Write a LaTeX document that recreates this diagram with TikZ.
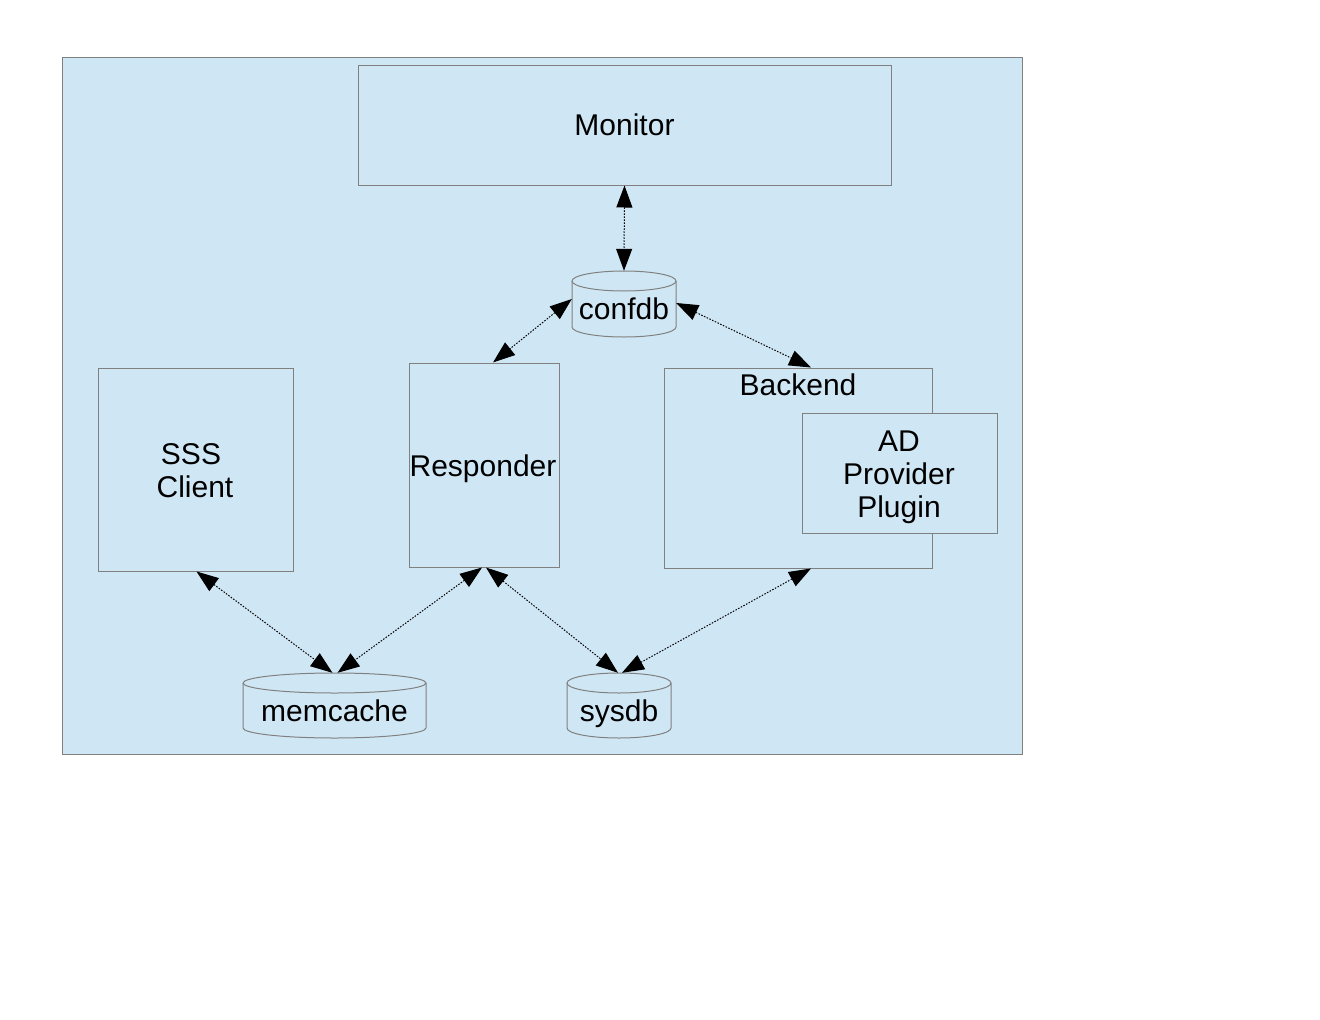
\documentclass[tikz,border=0pt]{standalone}
\usepackage{fontspec}
\setmainfont{Liberation Sans}
\usetikzlibrary{arrows.meta}
\definecolor{bgblue}{HTML}{CFE7F5}
\definecolor{edgegray}{HTML}{808080}
\tikzset{
  box/.style={draw=edgegray, fill=bgblue, line width=1pt, inner sep=0pt, align=center, font=\fontsize{30}{33}\selectfont},
  lbl/.style={inner sep=0pt, align=center, font=\fontsize{30}{33}\selectfont},
  link/.style={line width=1pt, dash pattern=on 1.5pt off 1.5pt, {Triangle[length=22pt,width=16pt]}-{Triangle[length=22pt,width=16pt]}},
  cylfill/.style={draw=edgegray, fill=bgblue, line width=1pt}
}
% name, cx, top, bottom, rx, text, baseline
\newcommand\dbcyl[7]{%
  \path[cylfill] (#2-#5,#3+10) -- (#2-#5,#4-10) arc[start angle=180,end angle=0,x radius=#5,y radius=10] -- (#2+#5,#3+10) arc[start angle=0,end angle=-180,x radius=#5,y radius=10] -- cycle;
  \draw[edgegray, line width=1pt] (#2-#5,#3+10) arc[start angle=180,end angle=0,x radius=#5,y radius=10];
  \node[lbl, minimum width=2*#5, minimum height=#4-#3] (#1) at (#2,{(#3+#4)/2}) {};
  \node[lbl, anchor=base] at (#2,#7) {#6};
}
\begin{document}
\begin{tikzpicture}[x=1pt,y=-1pt]
\useasboundingbox[fill=white] (0,0) rectangle (1320,1020);
% outer frame
\draw[draw=edgegray, fill=bgblue, line width=1pt] (62,57) rectangle (1022,754);
% boxes
\node[box, minimum width=533, minimum height=120] (monitor) at (624.5,125) {Monitor};
\node[box, minimum width=195, minimum height=203] (sss) at (195.5,469.5) {};
\node[lbl, anchor=base] (sssl1) at (191,464) {SSS};
\node[lbl, anchor=base] (sssl2) at (195,497) {Client};
\node[box, minimum width=150, minimum height=204] (responder) at (484,465) {};
\node[lbl, anchor=base] (resplbl) at (483,476) {Responder};
\node[box, minimum width=268, minimum height=200] (backend) at (798,468) {};
\node[lbl, anchor=base] (backendlbl) at (798,395) {Backend};
\node[box, minimum width=195, minimum height=120] (ad) at (899.5,473) {};
\node[lbl, anchor=base] (adlbl) at (899,517) {AD\\ Provider\\ Plugin};
% databases
\dbcyl{confdb}{624}{271}{337}{52}{confdb}{319}
\dbcyl{memcache}{334.5}{673}{738}{91.5}{memcache}{721}
\dbcyl{sysdb}{619}{673}{738}{52}{sysdb}{721}
% connectors
\draw[link] (monitor.south) -- (confdb.north);
\draw[link] ([yshift=5pt]confdb.west) -- ([xshift=9pt]responder.north);
\draw[link] ([yshift=1pt]confdb.east) -- ([xshift=13pt]backend.north);
\draw[link] ([xshift=1pt]sss.south) -- ([xshift=-2pt]memcache.north);
\draw[link] ([xshift=-2pt]responder.south) -- ([xshift=3pt]memcache.north);
\draw[link] ([xshift=2pt]responder.south) -- ([xshift=-1pt]sysdb.north);
\draw[link] ([xshift=13pt]backend.south) -- ([xshift=3pt]sysdb.north);
\end{tikzpicture}
\end{document}
